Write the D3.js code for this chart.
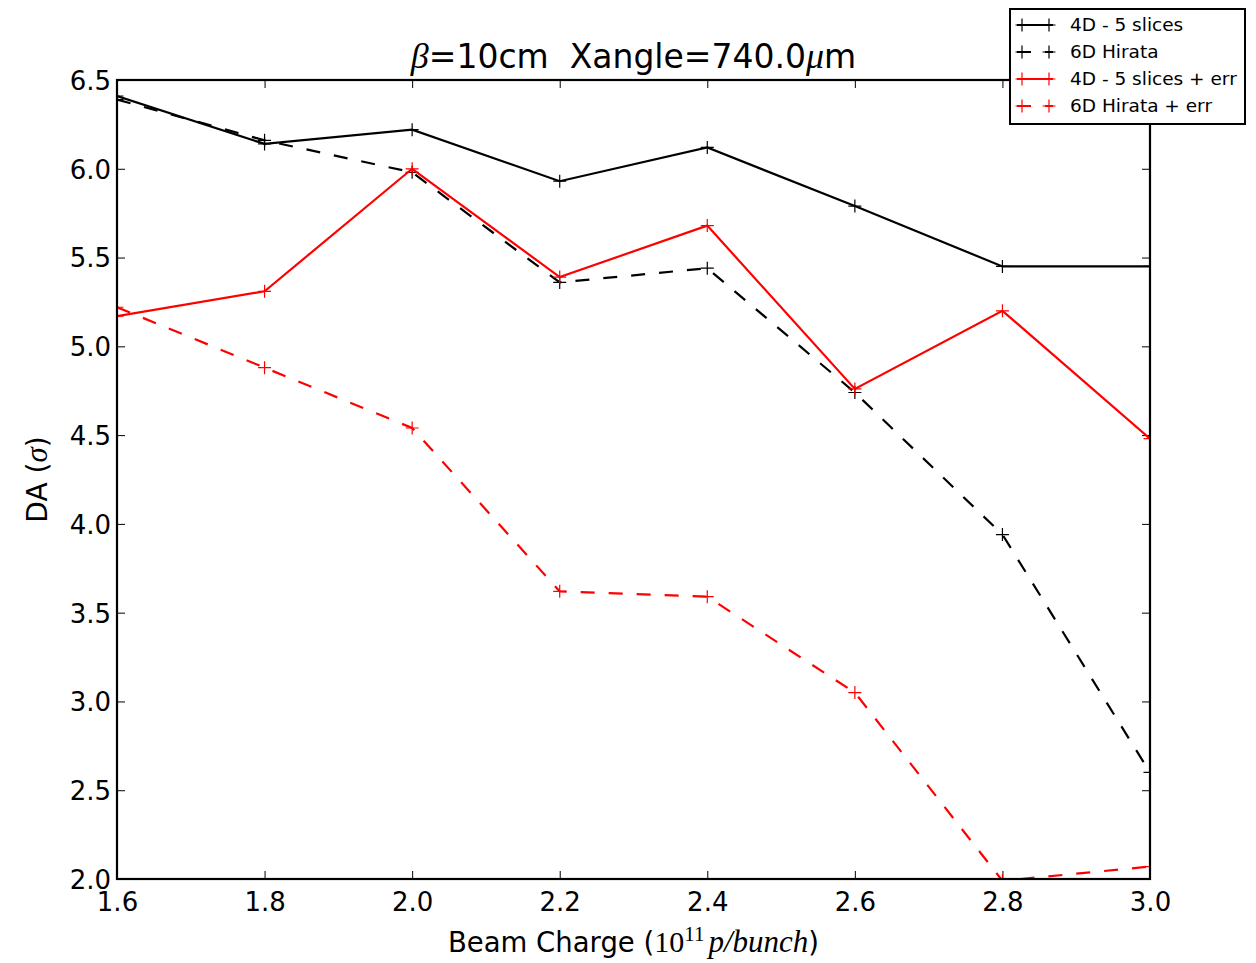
<!DOCTYPE html>
<html>
<head>
<meta charset="utf-8">
<script src="https://cdn.jsdelivr.net/npm/d3@7"></script>
<style>
  html, body { margin: 0; padding: 0; background: #fff; }
  svg { display: block; font-family: "DejaVu Sans", sans-serif; }
</style>
</head>
<body>
<svg id="chart" width="1256" height="963"></svg>
<script>
// Beam charge (10^11 p/bunch)
const charges = [1.6, 1.8, 2.0, 2.2, 2.4, 2.6, 2.8, 3.0];

// Dynamic aperture (sigma) per configuration
const da4D      = [6.41, 6.14, 6.22, 5.93, 6.12, 5.79, 5.45, 5.45];
const da6D      = [6.39, 6.16, 5.98, 5.36, 5.44, 4.74, 3.94, 2.60];
const da4DErr   = [5.17, 5.31, 6.00, 5.39, 5.68, 4.76, 5.20, 4.48];
const da6DErr   = [5.22, 4.88, 4.54, 3.62, 3.59, 3.05, 1.99, 2.07];

const xTicks = [1.6, 1.8, 2.0, 2.2, 2.4, 2.6, 2.8, 3.0];
const yTicks = [2.0, 2.5, 3.0, 3.5, 4.0, 4.5, 5.0, 5.5, 6.0, 6.5];

const seriesNames  = ["4D - 5 slices", "6D Hirata", "4D - 5 slices + err", "6D Hirata + err"];
const seriesValues = [da4D, da6D, da4DErr, da6DErr];
const seriesColor  = ["#000000", "#000000", "#ff0000", "#ff0000"];
const seriesDashed = [false, true, false, true];

const svg = d3.select("#chart");
const plot = { left: 117, right: 1150, top: 80, bottom: 879 };

const x = d3.scaleLinear().domain([1.6, 3.0]).range([plot.left, plot.right]);
const y = d3.scaleLinear().domain([2.0, 6.5]).range([plot.bottom, plot.top]);

svg.append("defs").append("clipPath").attr("id", "plotClip")
  .append("rect")
  .attr("x", plot.left).attr("y", plot.top)
  .attr("width", plot.right - plot.left).attr("height", plot.bottom - plot.top);

const tickLen = 8;
const fmt = d3.format(".1f");

// Axes: inward ticks on all four sides
const axisBottom = d3.axisBottom(x).tickValues(xTicks).tickFormat(fmt).tickSizeInner(-tickLen).tickSizeOuter(0).tickPadding(14);
const axisTop    = d3.axisTop(x).tickValues(xTicks).tickFormat("").tickSizeInner(-tickLen).tickSizeOuter(0);
const axisLeft   = d3.axisLeft(y).tickValues(yTicks).tickFormat(fmt).tickSizeInner(-tickLen).tickSizeOuter(0).tickPadding(6);
const axisRight  = d3.axisRight(y).tickValues(yTicks).tickFormat("").tickSizeInner(-tickLen).tickSizeOuter(0);

function styleAxis(g) {
  g.select(".domain").remove();
  g.selectAll(".tick line").attr("stroke", "#000").attr("stroke-width", 1);
  g.selectAll(".tick text").attr("fill", "#000")
    .style("font-family", "'DejaVu Sans', sans-serif").style("font-size", "26px");
}

svg.append("g").attr("transform", `translate(0,${plot.bottom})`).call(axisBottom).call(styleAxis);
svg.append("g").attr("transform", `translate(0,${plot.top})`).call(axisTop).call(styleAxis);
svg.append("g").attr("transform", `translate(${plot.left},0)`).call(axisLeft).call(styleAxis)
  .selectAll(".tick text").attr("dy", "0.36em");
svg.append("g").attr("transform", `translate(${plot.right},0)`).call(axisRight).call(styleAxis);

// Series lines and plus markers
const lineGen = d3.line().x((d, i) => x(charges[i])).y(d => y(d));
const data = seriesValues.map((vals, k) => ({ vals, k }));

const series = svg.append("g").attr("clip-path", "url(#plotClip)");
data.forEach(({ vals, k }) => {
  series.append("path")
    .attr("d", lineGen(vals))
    .attr("fill", "none")
    .attr("stroke", seriesColor[k])
    .attr("stroke-width", 2.2)
    .attr("stroke-dasharray", seriesDashed[k] ? "14,14" : null);
  const ms = 6.5;
  series.selectAll(null).data(vals).enter().append("path")
    .attr("d", (d, i) => {
      const cx = x(charges[i]), cy = y(d);
      return `M${cx - ms},${cy}H${cx + ms}M${cx},${cy - ms}V${cy + ms}`;
    })
    .attr("stroke", seriesColor[k])
    .attr("stroke-width", 1.2)
    .attr("fill", "none");
});

// Plot frame
svg.append("rect")
  .attr("x", plot.left).attr("y", plot.top)
  .attr("width", plot.right - plot.left).attr("height", plot.bottom - plot.top)
  .attr("fill", "none").attr("stroke", "#000").attr("stroke-width", 2.2);

// Title
const title = svg.append("text")
  .attr("x", (plot.left + plot.right) / 2).attr("y", 68)
  .attr("text-anchor", "middle")
  .style("font-size", "33px").attr("fill", "#000");
title.append("tspan").text("β").style("font-family", "'Liberation Serif', serif").style("font-style", "italic").style("font-size", "36px");
title.append("tspan").text("=10cm\u00a0\u00a0Xangle=740.0");
title.append("tspan").text("μ").style("font-family", "'Liberation Serif', serif").style("font-style", "italic").style("font-size", "36px");
title.append("tspan").text("m");

// X axis label
const xl = svg.append("text")
  .attr("x", (plot.left + plot.right) / 2).attr("y", 952)
  .attr("text-anchor", "middle")
  .style("font-size", "27.5px").attr("fill", "#000");
xl.append("tspan").text("Beam Charge (");
xl.append("tspan").text("10").style("font-family", "'Liberation Serif', serif").style("font-size", "30px");
xl.append("tspan").text("11").attr("dy", -11).style("font-family", "'Liberation Serif', serif").style("font-size", "21px");
xl.append("tspan").text("p/bunch").attr("dy", 11).attr("dx", 4).style("font-family", "'Liberation Serif', serif").style("font-style", "italic").style("font-size", "31px");
xl.append("tspan").text(")");

// Y axis label
const yl = svg.append("text")
  .attr("transform", `translate(47,${(plot.top + plot.bottom) / 2}) rotate(-90)`)
  .attr("text-anchor", "middle")
  .style("font-size", "28px").attr("fill", "#000");
yl.append("tspan").text("DA (");
yl.append("tspan").text("σ").style("font-family", "'Liberation Serif', serif").style("font-style", "italic").style("font-size", "31px");
yl.append("tspan").text(")");

// Legend
const legend = svg.append("g");
legend.append("rect")
  .attr("x", 1010).attr("y", 9).attr("width", 235).attr("height", 115)
  .attr("fill", "#fff").attr("stroke", "#000").attr("stroke-width", 2);

const rowY = [25, 52, 79, 106];
seriesNames.forEach((name, k) => {
  const cy = rowY[k];
  legend.append("line")
    .attr("x1", 1017).attr("x2", 1053).attr("y1", cy).attr("y2", cy)
    .attr("stroke", seriesColor[k]).attr("stroke-width", 2)
    .attr("stroke-dasharray", seriesDashed[k] ? "14,14" : null);
  [1022, 1049].forEach(mx => {
    legend.append("path")
      .attr("d", `M${mx - 6.5},${cy}H${mx + 6.5}M${mx},${cy - 6.5}V${cy + 6.5}`)
      .attr("stroke", seriesColor[k]).attr("stroke-width", 1.2);
  });
  legend.append("text")
    .attr("x", 1070).attr("y", cy).attr("dy", "0.35em")
    .style("font-size", "18.5px").attr("fill", "#000")
    .text(name);
});
</script>
</body>
</html>
